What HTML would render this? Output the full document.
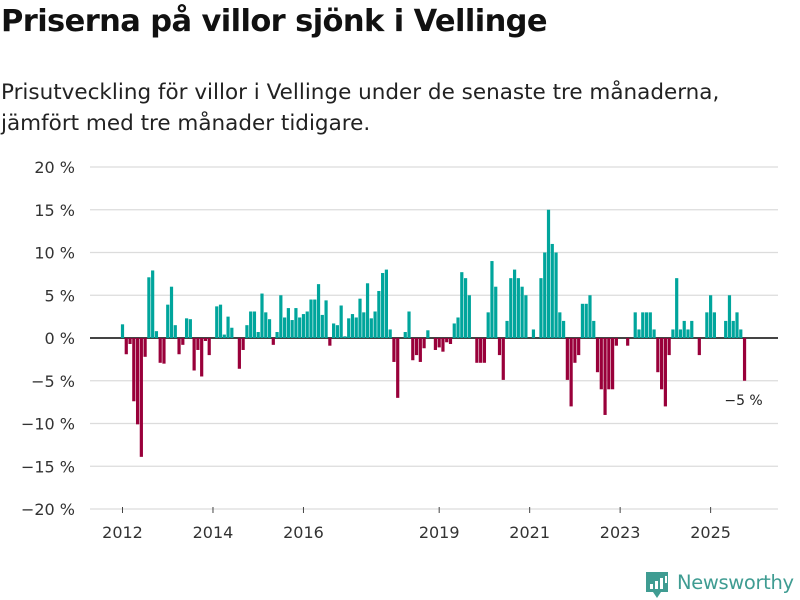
<!DOCTYPE html>
<html><head><meta charset="utf-8"><style>
body{margin:0;background:#fff;font-family:"Liberation Sans","DejaVu Sans",sans-serif;}
#wrap{position:relative;width:800px;height:600px;overflow:hidden;}
h1{position:absolute;left:1px;top:4px;margin:0;font-size:30.5px;font-weight:bold;color:#111;font-family:"DejaVu Sans","Liberation Sans",sans-serif;letter-spacing:-0.6px}
.sub{position:absolute;left:1px;top:77px;margin:0;font-size:21.5px;line-height:31px;color:#222;font-family:"DejaVu Sans","Liberation Sans",sans-serif;}
</style></head><body><div id="wrap">
<h1>Priserna på villor sjönk i Vellinge</h1>
<p class="sub">Prisutveckling för villor i Vellinge under de senaste tre månaderna,<br>jämfört med tre månader tidigare.</p>
<svg id="chart" width="800" height="600" style="position:absolute;left:0;top:0"></svg>
</div>
<script>
const values = [1.6,-1.9,-0.7,-7.4,-10.1,-13.9,-2.2,7.1,7.9,0.8,-2.9,-3.0,3.9,6.0,1.5,-1.9,-0.8,2.3,2.2,-3.8,-1.4,-4.5,-0.35,-2.0,
0,3.7,3.9,0.4,2.5,1.2,0,-3.6,-1.4,1.5,3.1,3.1,0.7,5.2,3.0,2.2,-0.8,
0.7,5.0,2.4,3.5,2.1,3.5,2.4,2.8,3.1,4.5,4.5,6.3,2.7,4.4,-0.9,1.7,1.5,3.8,0.2,2.3,2.8,2.4,4.6,3.0,6.4,2.3,3.1,5.5,7.6,8.0,1.0,-2.8,-7.0,
0,0.7,3.1,-2.6,-2.0,-2.8,-1.2,0.9,
0,-1.4,-1.1,-1.6,-0.5,-0.7,1.7,2.4,7.7,7.0,5.0,0,-2.9,-2.9,-2.9,3.0,9.0,6.0,-2.0,-4.9,2.0,7.0,8.0,7.0,6.0,5.0,0,1.0,0,7.0,10,15,11,10,3,2,-4.9,-8,-2.9,-2.0,
4.0,4.0,5.0,2.0,-4,-6,-9,-6,-6,-0.9,0,0,-0.9,0,3,1,3,3,3,1,-4,-6,-8,-2,1,7,1,2,1,2,0,-2,0,3,5,3,0,0,2,5,2,3,1,-5];
const yTicks = [20,15,10,5,0,-5,-10,-15,-20];
const xTickYears = [2012,2014,2016,2019,2021,2023,2025];
const startYear = 2012;
const lastLabel = "−5 %";

const svg = document.getElementById('chart');
const NS = 'http://www.w3.org/2000/svg';
const x0 = 122.5, pitch = 3.77, barW = 3.2;
const yZero = 338, pxPerPct = 8.55;
function x(i){return x0 + i*pitch;}
function y(v){return yZero - v*pxPerPct;}
function mk(tag, attrs){const e=document.createElementNS(NS,tag);for(const k in attrs)e.setAttribute(k,attrs[k]);svg.appendChild(e);return e;}

yTicks.forEach(t=>{
  const g = mk('line',{x1:90,x2:778,y1:y(t),y2:y(t),stroke:t===0?'#444':'#dcdcdc','stroke-width':t===0?2:1.3});
  
  
  const tx = mk('text',{x:75,y:y(t)+6,'text-anchor':'end','font-size':16,fill:'#333','font-family':'DejaVu Sans, Liberation Sans, sans-serif'});
  tx.textContent = (t<0?'−'+(-t):t)+' %';
  
  
});
values.forEach((v,i)=>{
  if(v===0) return;
  const r = mk('rect',{x:x(i)-barW/2,width:barW,y:Math.min(y(v),yZero),height:Math.abs(y(v)-yZero),fill:v>0?'#00a59c':'#99003a'});
  
  
});
xTickYears.forEach(yr=>{
  const i=(yr-startYear)*12;
  const tk = mk('line',{x1:x(i),x2:x(i),y1:507,y2:513,stroke:'#444','stroke-width':1});
  
  
  const tx = mk('text',{x:x(i),y:538,'text-anchor':'middle','font-size':16,fill:'#333','font-family':'DejaVu Sans, Liberation Sans, sans-serif'});
  tx.textContent = yr;
  
  
});
const li = values.length-1;
const lab = mk('text',{x:x(li)-1,y:y(values[li])+24,'text-anchor':'middle','font-size':14,fill:'#222','font-family':'DejaVu Sans, Liberation Sans, sans-serif'});
lab.textContent = lastLabel;



// logo
const lg = mk('g',{});


const p = document.createElementNS(NS,'path');
p.setAttribute('d','M646 572 h22 v20 h-7 l-4 6 l-4 -6 h-7 z');
p.setAttribute('fill','#3f9c92');
lg.appendChild(p);
[[650,584,3,5],[655,581,3,8],[660,578,3,11],[665,576,2,7]].forEach(a=>{const r=document.createElementNS(NS,'rect');r.setAttribute('x',a[0]);r.setAttribute('y',a[1]);r.setAttribute('width',a[2]);r.setAttribute('height',a[3]);r.setAttribute('fill','#fff');lg.appendChild(r);});
const t = document.createElementNS(NS,'text');
t.setAttribute('x',677);t.setAttribute('y',589);t.setAttribute('font-size',19.5);t.setAttribute('fill','#3f9c92');t.setAttribute('font-family','DejaVu Sans, Liberation Sans, sans-serif');t.setAttribute('textLength',117);
t.textContent='Newsworthy';
lg.appendChild(t);
</script>
</body></html>
